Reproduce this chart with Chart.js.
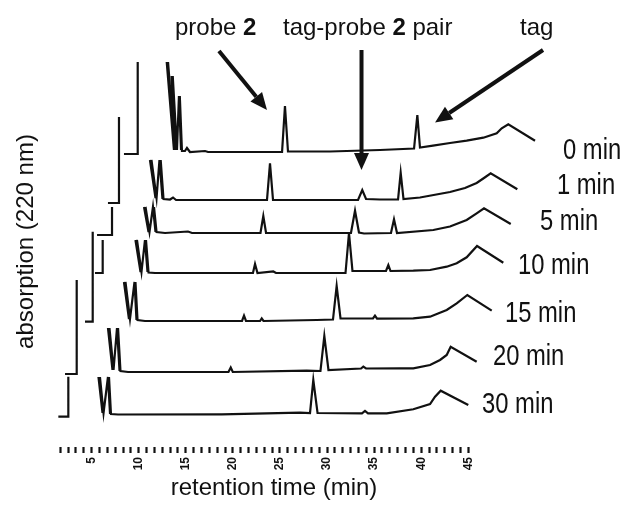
<!DOCTYPE html>
<html>
<head>
<meta charset="utf-8">
<script src="https://cdn.jsdelivr.net/npm/chart.js@4/dist/chart.umd.min.js"></script>
<style>
  html, body { margin: 0; padding: 0; background: #fff; }
  canvas { display: block; }
</style>
</head>
<body>
<canvas id="chromatograms" width="625" height="509"></canvas>
<script>
// HPLC traces of the tag / probe 2 mixture, one per reaction time.
// Each vertex is [retention time (min), absorbance above that trace's baseline];
// a null absorbance breaks the line where the solvent front runs off scale.
const runLabels = ['0 min', '1 min', '5 min', '10 min', '15 min', '20 min', '30 min'];
const baselineLevel = [295, 247, 214, 174, 126, 75, 32];

const trace0 = [
  [8.43, -2], [9.89, -2], [9.89, 90], [9.89, null],
  [12.97, 90], [13.74, 2], [13.11, 90], [13.85, 2], [13.50, 76], [13.96, 2], [13.61, 76], [14.06, 2],
  [14.27, 56], [14.49, 2], [14.36, 56], [14.59, 1], [14.91, 1], [15.12, 4], [15.44, 0],
  [17.04, 1], [17.36, 0], [25.22, 0], [25.53, 46], [25.85, 0.5], [30.31, 0.5], [35.62, 2],
  [39.24, 3.5], [39.59, 37], [39.87, 4.5], [41.25, 6.3], [43.06, 9], [44.83, 11.3], [46.60, 14.3],
  [48.02, 18.7], [48.55, 23.7], [49.25, 27.7], [52.09, 11.3]
];
const trace1 = [
  [6.73, -3], [7.90, -3], [7.90, 83], [7.90, null],
  [11.19, 40], [11.78, 2], [11.35, 40], [11.89, 2], [12.20, 40], [12.52, 1], [12.33, 40], [12.63, 1],
  [13.32, 0.5], [13.64, 2.5], [13.96, 0],
  [23.62, 0], [23.94, 36.7], [24.26, 0], [33.29, 0], [33.74, 10], [34.14, 1], [35.62, 0.5],
  [37.54, 0.5], [37.82, 27.3], [38.12, 1], [39.87, 2.5], [43.06, 8], [44.65, 12], [45.89, 17],
  [46.67, 22], [47.38, 26.7], [50.21, 10.7]
];
const trace2 = [
  [5.57, -2], [7.16, -2], [7.16, 26], [7.16, null],
  [10.56, 26], [11.04, 1], [10.72, 26], [11.14, 1], [11.51, 26], [11.78, 1], [11.62, 26], [11.89, 1],
  [12.79, 0], [15.23, 1.5], [15.66, 0],
  [22.93, 0], [23.23, 17], [23.52, 0], [32.54, 0], [32.97, 22.3], [33.39, 0.5], [33.93, -0.5],
  [36.79, 0], [37.11, 13.7], [37.43, 0], [41.29, 3], [43.06, 6.5], [44.83, 13], [45.89, 19.7],
  [46.67, 24.7], [49.51, 9]
];
const trace3 = [
  [5.35, 0], [6.17, 0], [6.17, 33], [6.17, null],
  [9.65, 33], [10.19, 1], [9.81, 33], [10.29, 1], [10.66, 33], [10.93, 1], [10.77, 33], [11.04, 0.5],
  [11.73, 0],
  [22.13, 0], [22.35, 9], [22.61, 0], [24.29, 1.5], [24.58, 0],
  [31.96, 0], [32.33, 40], [32.70, 2], [36.26, 2], [36.51, 8], [36.74, 2],
  [39.16, 2.3], [40.94, 3], [42.71, 6.3], [43.77, 9.7], [44.83, 15.7], [45.93, 27], [48.72, 10.3]
];
const trace4 = [
  [4.29, -0.7], [5.11, -0.7], [5.11, 89.3], [5.11, null],
  [8.43, 39], [8.96, 2], [8.59, 39], [9.07, 2], [9.55, 39], [9.76, 1], [9.65, 39], [9.87, 1],
  [10.66, 0],
  [20.97, 0], [21.18, 5.3], [21.39, 0], [22.88, 0], [23.06, 2.5], [23.25, 0],
  [28.90, 1], [30.63, 1.5], [31.02, 35], [31.43, 2.5], [34.88, 2.5], [35.09, 5.3], [35.31, 2.3],
  [39.16, 2.7], [40.94, 4.3], [42.71, 11], [43.77, 17.7], [44.90, 26], [47.49, 10.3]
];
const trace5 = [
  [2.17, -2], [3.41, -2], [3.41, 92], [3.41, null],
  [6.73, 44], [7.21, 2], [6.89, 44], [7.32, 2], [7.69, 44], [7.96, 1], [7.80, 44], [8.06, 1],
  [8.86, 0],
  [19.53, 0], [19.77, 4.5], [19.99, 0], [27.84, 1.3], [29.30, 1], [29.71, 36], [30.15, 2],
  [33.61, 3.5], [33.85, 5.3], [34.14, 3.5], [37.75, 3.7], [39.16, 3.7], [40.94, 7], [42.00, 12],
  [42.71, 17], [43.13, 25.3], [45.89, 10.3]
];
const trace6 = [
  [1.46, -1.7], [2.52, -1.7], [2.52, 38.3], [2.52, null],
  [5.72, 38], [6.15, 2], [5.88, 38], [6.26, 2], [6.73, 38], [6.95, 1], [6.84, 38], [7.05, 1],
  [7.80, 0.5],
  [18.81, 0.7], [27.13, 2.3], [28.19, 2], [28.54, 35], [28.99, 2],
  [33.71, 1.7], [34.03, 4], [34.35, 1.7], [36.34, 1.7], [39.16, 5.7], [40.94, 11], [41.47, 18.3],
  [42.07, 24.3], [45.00, 10]
];
const traces = [trace0, trace1, trace2, trace3, trace4, trace5, trace6];

// axis: labelled every 5 min, six minor divisions in between
const majorTicks = [5, 10, 15, 20, 25, 30, 35, 40, 45];
const divisions = 6;

// ---- layout / annotation placement (data units) ----
const runLabelAt = [[55.06, 296], [54.42, 261], [52.62, 225], [50.28, 181], [48.90, 133], [47.62, 90], [46.46, 42]];
const arrows = [
  { from: [18.52, 396], to: [23.62, 337] },
  { from: [33.66, 397], to: [33.66, 277] },
  { from: [52.94, 397], to: [41.47, 324.5] }
];
const notes = [
  { at: [13.85, 412], parts: [['probe ', false], ['2', true]] },
  { at: [25.32, 412], parts: [['tag-probe ', false], ['2', true], [' pair', false]] },
  { at: [50.49, 412], parts: [['tag', false]] }
];

const ink = '#111';
const family = '"Liberation Sans", Arial, sans-serif';

const tickValues = [];
for (let k = 2; k <= 9 * divisions; k++) tickValues.push(k * 5 / divisions);

function drawArrow(ctx, x1, y1, x2, y2) {
  const head = 17, half = 7.5;
  const ang = Math.atan2(y2 - y1, x2 - x1);
  const bx = x2 - head * Math.cos(ang), by = y2 - head * Math.sin(ang);
  ctx.lineWidth = 4;
  ctx.beginPath();
  ctx.moveTo(x1, y1);
  ctx.lineTo(bx, by);
  ctx.stroke();
  ctx.beginPath();
  ctx.moveTo(x2, y2);
  ctx.lineTo(bx + half * Math.sin(ang), by - half * Math.cos(ang));
  ctx.lineTo(bx - half * Math.sin(ang), by + half * Math.cos(ang));
  ctx.closePath();
  ctx.fill();
}

const annotate = {
  id: 'annotate',
  afterDraw(chart) {
    const { ctx, scales: { x, y } } = chart;
    const px = t => x.getPixelForValue(t);
    const py = v => y.getPixelForValue(v);
    ctx.save();
    ctx.fillStyle = ink;
    ctx.strokeStyle = ink;

    arrows.forEach(a => drawArrow(ctx, px(a.from[0]), py(a.from[1]), px(a.to[0]), py(a.to[1])));

    ctx.textBaseline = 'alphabetic';
    ctx.textAlign = 'left';
    notes.forEach(n => {
      let cx = px(n.at[0]);
      n.parts.forEach(([txt, bold]) => {
        ctx.font = (bold ? 'bold ' : '') + '24px ' + family;
        ctx.fillText(txt, cx, py(n.at[1]));
        cx += ctx.measureText(txt).width;
      });
    });

    // run labels in a narrow face
    ctx.textBaseline = 'middle';
    ctx.font = '29px ' + family;
    runLabels.forEach((lab, i) => {
      ctx.save();
      ctx.translate(px(runLabelAt[i][0]), py(runLabelAt[i][1]));
      ctx.scale(0.82, 1);
      ctx.fillText(lab, 0, 0);
      ctx.restore();
    });

    // axis titles
    ctx.font = '24px ' + family;
    ctx.textBaseline = 'alphabetic';
    ctx.textAlign = 'center';
    ctx.fillText('retention time (min)', 274, 495);
    ctx.save();
    ctx.translate(33, 241.5);
    ctx.rotate(-Math.PI / 2);
    ctx.fillText('absorption (220 nm)', 0, 0);
    ctx.restore();
    ctx.restore();
  }
};

new Chart(document.getElementById('chromatograms'), {
  type: 'line',
  data: {
    datasets: traces.map((pts, i) => ({
      label: runLabels[i],
      data: pts.map(([t, a]) => ({ x: t, y: a === null ? null : a + baselineLevel[i] })),
      borderColor: ink,
      borderWidth: 2.2,
      pointRadius: 0,
      tension: 0,
      fill: false,
      clip: false
    }))
  },
  options: {
    responsive: false,
    devicePixelRatio: 1,
    animation: false,
    events: [],
    layout: { padding: { left: 44.6, top: 47, right: 81.4, bottom: 0 } },
    plugins: { legend: { display: false }, tooltip: { enabled: false } },
    scales: {
      x: {
        type: 'linear',
        min: 0,
        max: 53,
        afterBuildTicks: s => { s.ticks = tickValues.map(v => ({ value: v })); },
        afterFit: s => { s.height = 62; },
        border: { display: false },
        grid: { drawOnChartArea: false, drawTicks: true, tickLength: 6, tickWidth: 2.2, tickColor: ink },
        ticks: {
          autoSkip: false,
          minRotation: 90,
          maxRotation: 90,
          padding: 4,
          color: ink,
          font: { family: family, size: 12, weight: 'bold' },
          callback: v => majorTicks.includes(v) ? String(v) : ''
        }
      },
      y: { display: false, min: 0, max: 400 }
    }
  },
  plugins: [annotate]
});
</script>
</body>
</html>
